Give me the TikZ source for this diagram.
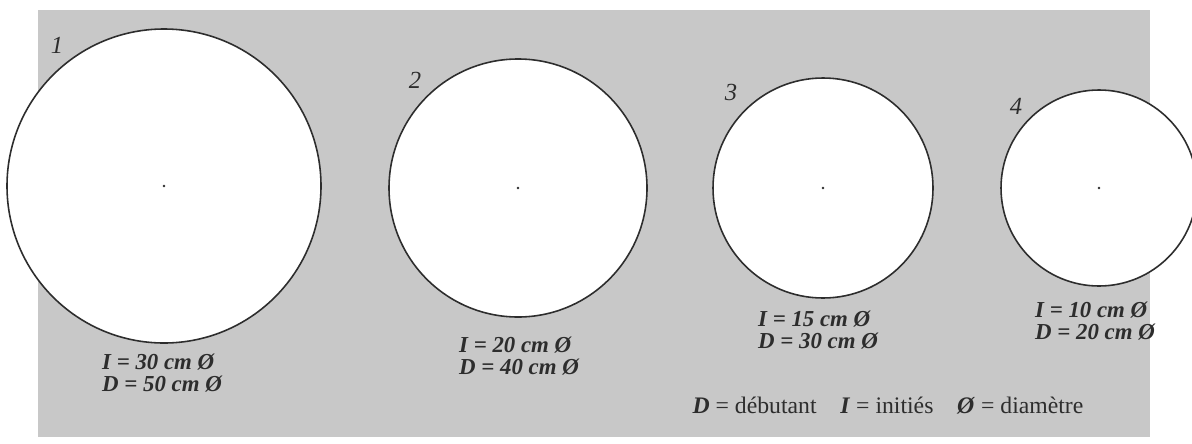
\documentclass[tikz,border=0pt]{standalone}
\usepackage{fontspec}
\setmainfont{Liberation Serif}
\usetikzlibrary{positioning}

\definecolor{paper}{RGB}{200,200,200}
\definecolor{ink}{RGB}{45,45,45}

\tikzset{
  disc/.style={draw=ink, fill=white, line width=0.9pt},
  sizes/.style={font=\bfseries\itshape\fontsize{13}{13}\selectfont, align=left, text=ink, inner sep=0pt},
  num/.style={font=\itshape\fontsize{14}{14}\selectfont, text=ink, inner sep=0pt}
}

\begin{document}
\begin{tikzpicture}[x=0.02cm, y=-0.02cm, line cap=round, line join=round]
\useasboundingbox (0,0) rectangle (1192,443);

\fill[paper] (38,10) rectangle (1150,437);

% circles
\coordinate (c1) at (164,186);
\coordinate (c2) at (518,188);
\coordinate (c3) at (823,188);
\coordinate (c4) at (1099,188);
\draw[disc] (c1) circle[radius=157];
\draw[disc] (c2) circle[radius=129];
\draw[disc] (c3) circle[radius=110];
\draw[disc] (c4) circle[radius=98];
\fill[ink] (c1) circle[radius=1.3];
\fill[ink] (c2) circle[radius=1.3];
\fill[ink] (c3) circle[radius=1.3];
\fill[ink] (c4) circle[radius=1.3];

\node[num] (n1) at (57,45) {1};
\node[num] (n2) at (415,80) {2};
\node[num] (n3) at (731,92) {3};
\node[num] (n4) at (1016,106) {4};

% sizes
\node[sizes] (s1) at (162,373) {I = 30 cm Ø\\D = 50 cm Ø};
\node[sizes] (s2) at (519,356) {I = 20 cm Ø\\D = 40 cm Ø};
\node[sizes] (s3) at (818,330) {I = 15 cm Ø\\D = 30 cm Ø};
\node[sizes] (s4) at (1095,321) {I = 10 cm Ø\\D = 20 cm Ø};

\node[text=ink, font=\fontsize{13.5}{14}\selectfont, inner sep=0pt] (key) at (888,406)
  {\textbf{\textit{D}} = débutant\quad \textbf{\textit{I}} = initiés\quad \textbf{\textit{Ø}} = diamètre};

\end{tikzpicture}
\end{document}
